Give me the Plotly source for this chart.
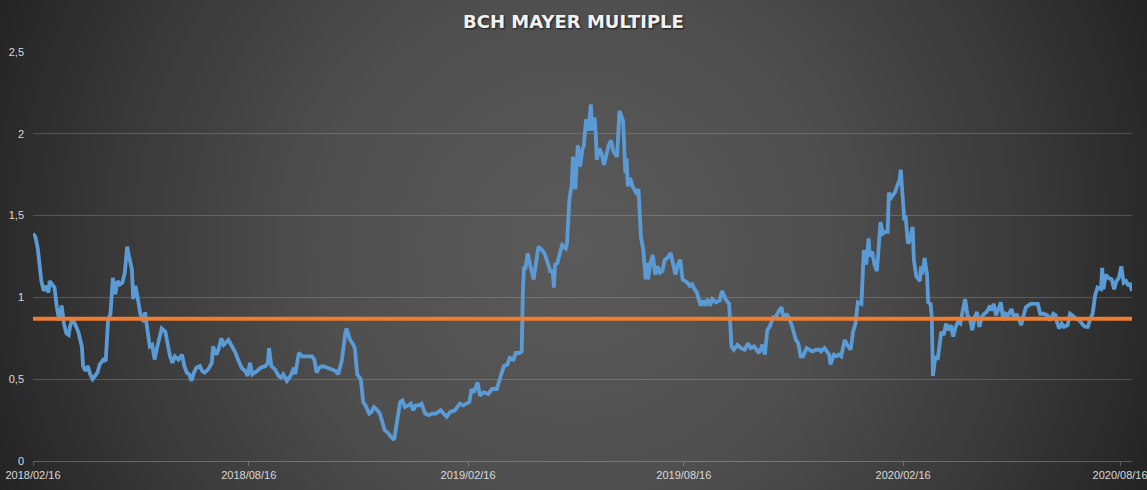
import base64
import pandas as pd
import plotly.graph_objects as go

# BCH Mayer multiple (days after 2018-02-16, value)
start_date = "2018-02-16"

days = [
    0, 2, 4, 6, 7, 9, 11, 13, 14, 16, 18, 20, 22, 24, 26, 28, 30, 31, 33, 35,
    38, 41, 42, 44, 46, 48, 50, 52, 54, 56, 59, 61, 63, 65, 67, 69, 71, 73, 75, 77,
    79, 80, 83, 84, 86, 88, 90, 93, 94, 96, 98, 100, 102, 104, 106, 108, 111, 113, 115, 117,
    119, 122, 125, 127, 129, 131, 133, 135, 137, 140, 142, 144, 147, 150, 151, 154, 156, 158, 160, 164,
    167, 170, 172, 175, 178, 180, 182, 184, 188, 191, 195, 197, 198, 200, 203, 206, 208, 210, 213, 216,
    219, 220, 223, 226, 230, 234, 236, 238, 240, 243, 247, 251, 254, 256, 259, 262, 263, 266, 268, 270,
    272, 275, 277, 279, 282, 284, 286, 289, 291, 293, 295, 298, 300, 303, 305, 308, 310, 312, 315,
    317, 319, 321, 324, 326, 329, 332, 335, 338, 342, 345, 347, 350, 354, 358, 361, 366, 368, 370, 373,
    375, 378, 382, 385, 389, 392, 395, 398, 400, 403, 405, 408, 410, 411, 412, 413, 415, 417, 420, 422,
    424, 427, 429, 431, 434, 436, 437, 438, 440, 442, 444, 447, 448, 450, 452, 453, 455, 457, 459, 461,
    462, 464, 466, 468, 469, 471, 472, 473, 475, 477, 479, 481, 483, 485, 487, 489, 490, 492, 494, 495,
    497, 498, 499, 501, 503, 506, 508, 509, 510, 512, 514, 515, 516, 518, 520, 522, 524, 526, 528, 530,
    532, 535, 537, 539, 541, 543, 545, 547, 549, 551, 553, 555, 557, 560, 562, 564, 566, 568, 570, 573,
    576, 578, 581, 584, 585, 586, 588, 591, 594, 597, 600, 602, 605, 607, 609, 612, 614, 616, 618, 621,
    623, 626,
    628, 630, 632, 634, 637, 640, 642, 644, 646, 649, 651, 654, 657, 660, 661, 664, 666, 668, 669, 672,
    674, 676, 678, 681, 683, 686, 688, 690, 692, 695, 697, 699, 701, 702, 704, 706, 708, 709, 711, 713,
    715, 717, 718, 720, 723, 725, 727, 728, 730, 731, 732, 734, 735, 737, 738, 739, 741, 744, 745, 746,
    748, 750, 751, 753, 754, 755, 757, 759, 760, 762, 764, 766, 768, 770, 772, 774, 776, 778, 780, 782,
    784, 786, 788, 790, 792, 794, 796, 798, 800, 803, 804, 806, 808, 810, 812, 814, 816, 818, 821, 823,
    825, 827, 829, 831, 833, 835, 837, 840, 843, 845, 848, 851, 853, 856, 858, 859, 861, 863, 865, 868,
    870, 872, 875, 878, 881, 883, 885, 887, 889, 891, 893, 896, 897, 898, 900, 902, 905, 907, 909, 911,
    913, 915, 917, 919, 920, 922,
]

mayer = [
    1.39, 1.37, 1.30, 1.13, 1.10, 1.04, 1.07, 1.03, 1.10, 1.08, 1.06, 0.94, 0.86, 0.95, 0.84, 0.78, 0.77, 0.82, 0.87, 0.84,
    0.79, 0.70, 0.58, 0.55, 0.58, 0.53, 0.50, 0.52, 0.54, 0.59, 0.62, 0.61, 0.86, 0.90, 1.12, 1.02, 1.10, 1.08, 1.09, 1.15,
    1.31, 1.27, 1.17, 0.99, 1.07, 0.99, 0.90, 0.85, 0.91, 0.80, 0.70, 0.71, 0.62, 0.69, 0.74, 0.81, 0.79, 0.70, 0.64, 0.60,
    0.64, 0.62, 0.65, 0.58, 0.54, 0.53, 0.49, 0.54, 0.57, 0.58, 0.55, 0.54, 0.56, 0.60, 0.70, 0.65, 0.69, 0.75, 0.71, 0.74,
    0.70, 0.66, 0.62, 0.57, 0.55, 0.52, 0.60, 0.53, 0.55, 0.57, 0.58, 0.60, 0.69, 0.58, 0.56, 0.52, 0.51, 0.53, 0.49, 0.52,
    0.57, 0.53, 0.66, 0.64, 0.64, 0.64, 0.62, 0.54, 0.57, 0.58, 0.57, 0.56, 0.55, 0.53, 0.61, 0.78, 0.81, 0.74, 0.72, 0.69,
    0.53, 0.50, 0.36, 0.34, 0.29, 0.30, 0.33, 0.31, 0.29, 0.24, 0.19, 0.17, 0.15, 0.13, 0.21, 0.36, 0.37, 0.33, 0.34,
    0.35, 0.31, 0.34, 0.34, 0.35, 0.29, 0.28, 0.29, 0.29, 0.31, 0.29, 0.27, 0.30, 0.31, 0.35, 0.34, 0.36, 0.44, 0.42, 0.48,
    0.40, 0.42, 0.41, 0.44, 0.44, 0.52, 0.58, 0.59, 0.63, 0.62, 0.66, 0.66, 0.67, 1.05, 1.19, 1.17, 1.27, 1.20, 1.11, 1.21,
    1.31, 1.29, 1.27, 1.23, 1.16, 1.16, 1.06, 1.20, 1.21, 1.27, 1.32, 1.30, 1.33, 1.60, 1.69, 1.86, 1.66, 1.93, 1.80, 1.91,
    1.92, 2.09, 2.02, 2.18, 2.02, 2.10, 2.02, 1.84, 1.91, 1.88, 1.81, 1.87, 1.93, 1.96, 1.89, 1.87, 1.86, 2.14, 2.10, 2.08,
    1.76, 1.85, 1.68, 1.73, 1.68, 1.64, 1.66, 1.54, 1.37, 1.29, 1.11, 1.21, 1.11, 1.21, 1.26, 1.14, 1.19, 1.15, 1.16, 1.23,
    1.24, 1.27, 1.21, 1.14, 1.20, 1.23, 1.11, 1.10, 1.09, 1.07, 1.08, 1.05, 1.03, 0.95, 0.98, 0.95, 0.99, 0.95, 0.99, 0.97,
    0.98, 1.04, 0.99, 0.96, 0.82, 0.70, 0.68, 0.71, 0.69, 0.68, 0.72, 0.69, 0.70, 0.68, 0.66, 0.71, 0.65, 0.80, 0.82, 0.88,
    0.88, 0.92,
    0.94, 0.86, 0.90, 0.88, 0.82, 0.74, 0.72, 0.64, 0.64, 0.69, 0.68, 0.67, 0.68, 0.68, 0.67, 0.69, 0.67, 0.65, 0.59, 0.65,
    0.64, 0.65, 0.64, 0.74, 0.71, 0.68, 0.79, 0.84, 0.97, 0.96, 1.29, 1.20, 1.36, 1.25, 1.28, 1.20, 1.16, 1.29, 1.46, 1.39,
    1.40, 1.40, 1.64, 1.61, 1.64, 1.68, 1.72, 1.78, 1.51, 1.47, 1.50, 1.33, 1.34, 1.42, 1.43, 1.23, 1.13, 1.10, 1.19, 1.14,
    1.24, 1.14, 0.97, 0.96, 0.88, 0.52, 0.64, 0.62, 0.68, 0.79, 0.77, 0.84, 0.80, 0.83, 0.76, 0.82, 0.85, 0.84, 0.92, 0.99,
    0.89, 0.87, 0.80, 0.88, 0.91, 0.82, 0.88, 0.90, 0.91, 0.95, 0.92, 0.96, 0.89, 0.94, 0.97, 0.86, 0.90, 0.89, 0.93, 0.87,
    0.90, 0.87, 0.83, 0.89, 0.94, 0.95, 0.96, 0.96, 0.96, 0.90, 0.90, 0.89, 0.86, 0.90, 0.89, 0.85, 0.81, 0.84, 0.82, 0.83,
    0.90, 0.89, 0.87, 0.86, 0.83, 0.82, 0.82, 0.87, 0.90, 1.01, 1.06, 1.05, 1.18, 1.05, 1.14, 1.12, 1.11, 1.05, 1.10, 1.12,
    1.19, 1.09, 1.10, 1.07, 1.09, 1.04,
]

reference_level = 0.87

tick_dates = ["2018-02-16", "2018-08-16", "2019-02-16", "2019-08-16", "2020-02-16", "2020-08-16"]
tick_labels = ["2018/02/16", "2018/08/16", "2019/02/16", "2019/08/16", "2020/02/16", "2020/08/16"]

dates = pd.to_datetime(start_date) + pd.to_timedelta(days, unit="D")

W, H = 1147, 490
ml, mr, mt, mb = 33, 15, 52, 29
pw, ph = W - ml - mr, H - mt - mb

# dark radial background like the Excel chart area
svg = f"""<svg xmlns='http://www.w3.org/2000/svg' width='{W}' height='{H}'>
<defs><radialGradient id='g' gradientUnits='userSpaceOnUse' cx='573' cy='245' r='625'>
<stop offset='0' stop-color='#5a5a5a'/><stop offset='0.4' stop-color='#4f4f4f'/>
<stop offset='0.75' stop-color='#383838'/><stop offset='1' stop-color='#232323'/>
</radialGradient></defs><rect width='{W}' height='{H}' fill='url(#g)'/></svg>"""
bg_src = "data:image/svg+xml;base64," + base64.b64encode(svg.encode()).decode()

fig = go.Figure()

fig.add_trace(go.Scatter(
    x=dates, y=mayer, mode="lines", name="Mayer Multiple",
    line=dict(color="#5B9BD5", width=3.8),
))
fig.add_trace(go.Scatter(
    x=[dates[0], dates[-1]], y=[reference_level, reference_level], mode="lines", name="Level",
    line=dict(color="#ED7D31", width=4),
))

fig.update_layout(
    width=W, height=H,
    margin=dict(l=ml, r=mr, t=mt, b=mb, autoexpand=False),
    paper_bgcolor="#2e2e2e",
    plot_bgcolor="rgba(0,0,0,0)",
    showlegend=False,
    separators=",.",
    title=dict(
        text="<b>BCH MAYER MULTIPLE</b>", x=0.5, xanchor="center", y=1 - 22 / H, yanchor="middle",
        font=dict(family="DejaVu Sans", size=18, color="#f2f2f2", shadow="1px 1px 2px rgba(0,0,0,0.7)"),
    ),
    images=[dict(
        source=bg_src, xref="paper", yref="paper",
        x=-ml / pw, y=1 + mt / ph, sizex=W / pw, sizey=H / ph,
        xanchor="left", yanchor="top", sizing="stretch", layer="below",
    )],
)

fig.update_xaxes(
    range=[dates[0], dates[-1]], automargin=False, ticklabeloverflow="allow",
    tickvals=pd.to_datetime(tick_dates), ticktext=tick_labels,
    showgrid=False, showline=True, linecolor="rgba(217,217,217,0.3)", linewidth=1,
    ticks="outside", ticklen=4, tickcolor="rgba(217,217,217,0.3)",
    tickfont=dict(family="Liberation Sans", size=11, color="#d9d9d9"),
)
fig.update_yaxes(
    range=[0, 2.5], dtick=0.5, automargin=False,
    showgrid=True, gridcolor="rgba(217,217,217,0.22)", gridwidth=1,
    zeroline=False, showline=False, ticklabelstandoff=8,
    tickfont=dict(family="Liberation Sans", size=11, color="#d9d9d9"),
)

fig.write_html("out.html", config={"displayModeBar": False},
               post_script="document.body.style.margin='0px';")
